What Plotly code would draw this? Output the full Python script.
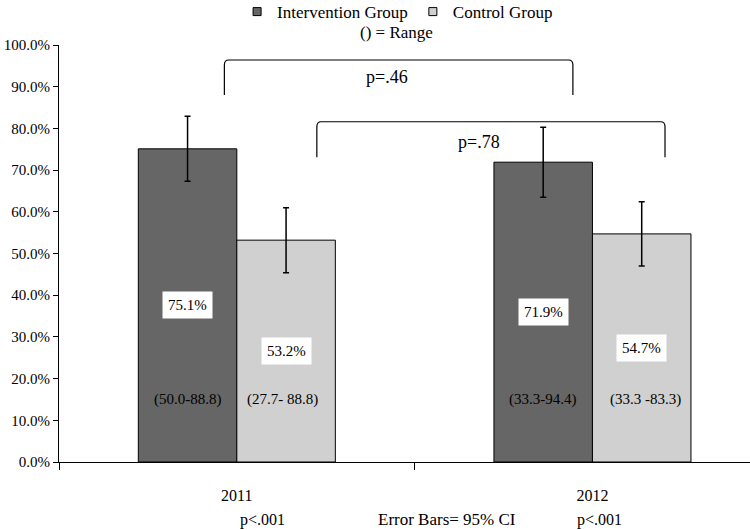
import plotly.graph_objects as go

# ---- data ----
years = ["2011", "2012"]
intervention = [75.1, 71.9]
control = [53.2, 54.7]
intervention_ci = [7.8, 8.4]
control_ci = [7.8, 7.7]
intervention_range = ["(50.0-88.8)", "(33.3-94.4)"]
control_range = ["(27.7- 88.8)", "(33.3 -83.3)"]
year_p = ["p<.001", "p<.001"]
y_ticks = [0, 10, 20, 30, 40, 50, 60, 70, 80, 90, 100]

FONT = "Liberation Serif, Times New Roman, serif"
DARK = "#666666"
LIGHT = "#d0d0d0"

fig = go.Figure()
fig.add_trace(go.Bar(
    name="Intervention Group", x=years, y=intervention,
    marker=dict(color=DARK, line=dict(color="black", width=1)),
    error_y=dict(type="data", array=intervention_ci, visible=True,
                 color="black", thickness=1.5, width=3),
    showlegend=False,
))
fig.add_trace(go.Bar(
    name="Control Group", x=years, y=control,
    marker=dict(color=LIGHT, line=dict(color="black", width=1)),
    error_y=dict(type="data", array=control_ci, visible=True,
                 color="black", thickness=1.5, width=3),
    showlegend=False,
))
# legend entries
for nm, col in [("Intervention Group", DARK), ("Control Group", LIGHT)]:
    fig.add_trace(go.Scatter(
        x=[None], y=[None], mode="markers", name=nm,
        marker=dict(symbol="square", size=8, color=col,
                    line=dict(color="black", width=1)),
    ))

half = 0.1385  # half bar width in category units
ann = []
for i in range(len(years)):
    xi = i - half
    xc = i + half
    ann.append(dict(x=xi, y=intervention[i] / 2, text=f"{intervention[i]:.1f}%",
                    showarrow=False, bgcolor="white", borderpad=5,
                    font=dict(size=15)))
    ann.append(dict(x=xc, y=control[i] / 2, text=f"{control[i]:.1f}%",
                    showarrow=False, bgcolor="white", borderpad=5,
                    font=dict(size=15)))
    ann.append(dict(x=xi, y=15, text=intervention_range[i], showarrow=False,
                    font=dict(size=15)))
    ann.append(dict(x=xc, y=15, text=control_range[i], showarrow=False,
                    font=dict(size=15), xshift=-4 if i == 0 else 4))

# bottom notes
ann.append(dict(x=0.071, y=-0.139, yref="paper", text=year_p[0], showarrow=False,
                yanchor="middle", font=dict(size=16)))
ann.append(dict(x=1.021, y=-0.139, yref="paper", text=year_p[1], showarrow=False,
                yanchor="middle", font=dict(size=16)))
ann.append(dict(x=0.591, y=-0.139, yref="paper", text="Error Bars= 95% CI",
                yanchor="middle", showarrow=False, font=dict(size=17)))
ann.append(dict(x=0.489, y=1.0288, xref="paper", yref="paper", text="() = Range",
                yanchor="middle", showarrow=False, font=dict(size=17)))
# p-values for brackets
ann.append(dict(x=0.422, y=92.4, text="p=.46", showarrow=False, font=dict(size=18)))
ann.append(dict(x=0.681, y=76.8, text="p=.78", showarrow=False, font=dict(size=18)))


def bracket(x0, x1, yt, yb, rx=0.012, ry=1.2):
    return (f"M {x0},{yb} L {x0},{yt-ry} Q {x0},{yt} {x0+rx},{yt} "
            f"L {x1-rx},{yt} Q {x1},{yt} {x1},{yt-ry} L {x1},{yb}")


shapes = [
    dict(type="path", path=bracket(-0.035, 0.945, 96.4, 88.0), xref="x", yref="y",
         line=dict(color="black", width=1.2)),
    dict(type="path", path=bracket(0.225, 1.204, 81.6, 73.1), xref="x", yref="y",
         line=dict(color="black", width=1.2)),
]

fig.update_layout(
    width=750, height=530,
    margin=dict(l=59, r=0, t=45, b=68, autoexpand=False),
    paper_bgcolor="white", plot_bgcolor="white",
    font=dict(family=FONT, size=15, color="black"),
    barmode="group", bargap=0.446, bargroupgap=0,
    legend=dict(orientation="h", xref="paper", x=0.49, xanchor="center",
                yref="paper", y=1.079, yanchor="middle",
                font=dict(size=17), itemwidth=30, tracegroupgap=0),
    annotations=ann,
    shapes=shapes,
)
fig.update_xaxes(
    type="category", range=[-0.5, 1.443], tickson="boundaries",
    ticks="outside", ticklen=7, tickcolor="black",
    showline=True, linecolor="black", linewidth=1, showgrid=False,
    tickfont=dict(size=16), ticklabelstandoff=19, automargin=False,
)
fig.update_yaxes(
    range=[0, 100], tickvals=y_ticks, ticktext=[f"{v:.1f}%" for v in y_ticks],
    ticks="outside", ticklen=5, tickcolor="black",
    showline=True, linecolor="black", linewidth=1, showgrid=False,
    zeroline=False, tickfont=dict(size=15), automargin=False,
)

fig.write_html(
    "out.html",
    config={"displayModeBar": False},
    post_script="document.body.style.margin='0px';document.body.style.overflow='hidden';",
)
